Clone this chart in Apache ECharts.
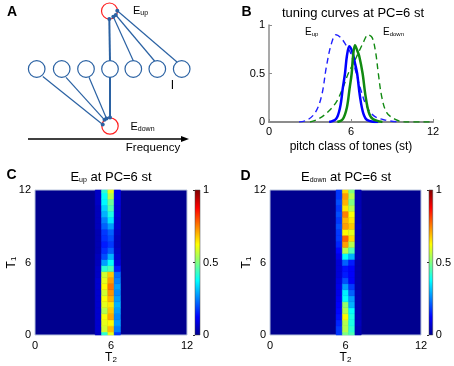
<!DOCTYPE html>
<html>
<head>
<meta charset="utf-8">
<script src="https://cdn.jsdelivr.net/npm/echarts@6/dist/echarts.min.js"></script>
<style>
  html, body { margin: 0; padding: 0; background: #fff; }
  #chart { width: 454px; height: 366px; }
</style>
</head>
<body>
<div id="chart"></div>
<script>
// panel B: tuning curves, [pitch class (st), response]
const upBroad = [[2.2, 0], [2.8, 0.02], [3.4, 0.1], [3.85, 0.27], [4.2, 0.57], [4.55, 0.8], [4.9, 0.9], [5.25, 0.87], [5.6, 0.8], [6.0, 0.7], [6.35, 0.52], [6.7, 0.34], [7.15, 0.16], [7.7, 0.06], [8.5, 0.02], [9.5, 0]]
const downBroad = [[3.0, 0], [3.6, 0.03], [4.2, 0.09], [4.9, 0.2], [5.4, 0.35], [5.8, 0.5], [6.4, 0.67], [6.9, 0.82], [7.25, 0.9], [7.55, 0.87], [7.8, 0.72], [8.0, 0.5], [8.25, 0.26], [8.6, 0.1], [9.2, 0.03], [10, 0], [12, 0]]
const upNarrow = [[4.4, 0], [4.9, 0.03], [5.2, 0.15], [5.4, 0.35], [5.56, 0.5], [5.7, 0.68], [5.88, 0.78], [6.1, 0.72], [6.3, 0.6], [6.45, 0.5], [6.65, 0.27], [6.9, 0.09], [7.2, 0.02], [8, 0]]
const downNarrow = [[5.0, 0], [5.4, 0.03], [5.7, 0.15], [5.9, 0.35], [6.05, 0.5], [6.15, 0.68], [6.29, 0.79], [6.45, 0.74], [6.6, 0.68], [6.85, 0.5], [7.05, 0.28], [7.3, 0.1], [7.6, 0.03], [8.3, 0]]

// panels C/D: rows of T1 (st), one array per T2 column, bottom row first
const t1Rows = [0, 0.5, 1, 1.5, 2, 2.5, 3, 3.5, 4, 4.5, 5, 5.5, 6, 6.5, 7, 7.5, 8, 8.5, 9, 9.5, 10, 10.5, 11, 11.5, 12]
const upPc50 = [0.06, 0.07, 0.07, 0.07, 0.07, 0.07, 0.07, 0.07, 0.07, 0.07, 0.06, 0.06, 0.05, 0.05, 0.04, 0.04, 0.04, 0.04, 0.05, 0.05, 0.05, 0.05, 0.06, 0.06, 0.06]
const upPc55 = [0.42, 0.58, 0.60, 0.62, 0.55, 0.60, 0.62, 0.58, 0.63, 0.60, 0.58, 0.42, 0.28, 0.20, 0.17, 0.15, 0.17, 0.18, 0.22, 0.25, 0.30, 0.33, 0.37, 0.38, 0.42]
const upPc60 = [0.60, 0.69, 0.63, 0.71, 0.68, 0.65, 0.70, 0.73, 0.76, 0.72, 0.68, 0.45, 0.38, 0.30, 0.22, 0.18, 0.20, 0.22, 0.28, 0.35, 0.40, 0.45, 0.48, 0.55, 0.60]
const upPc65 = [0.18, 0.25, 0.28, 0.26, 0.28, 0.30, 0.28, 0.26, 0.28, 0.25, 0.23, 0.15, 0.09, 0.07, 0.06, 0.05, 0.05, 0.06, 0.07, 0.07, 0.08, 0.08, 0.09, 0.10, 0.10]
const downPc55 = [0.18, 0.18, 0.16, 0.14, 0.13, 0.12, 0.11, 0.10, 0.10, 0.09, 0.08, 0.08, 0.08, 0.10, 0.13, 0.16, 0.18, 0.18, 0.20, 0.18, 0.20, 0.18, 0.20, 0.18, 0.18]
const downPc60 = [0.50, 0.55, 0.55, 0.63, 0.55, 0.52, 0.38, 0.36, 0.28, 0.20, 0.15, 0.14, 0.22, 0.38, 0.55, 0.72, 0.78, 0.63, 0.72, 0.70, 0.75, 0.65, 0.70, 0.72, 0.66]
const downPc65 = [0.45, 0.42, 0.40, 0.40, 0.38, 0.30, 0.28, 0.22, 0.18, 0.12, 0.12, 0.12, 0.15, 0.30, 0.45, 0.55, 0.66, 0.60, 0.68, 0.65, 0.62, 0.55, 0.50, 0.55, 0.50]
const downPc70 = [0.04, 0.04, 0.05, 0.04, 0.04, 0.04, 0.04, 0.04, 0.03, 0.03, 0.03, 0.03, 0.03, 0.04, 0.04, 0.04, 0.04, 0.04, 0.05, 0.04, 0.04, 0.04, 0.04, 0.04, 0.04]

const font = 'Liberation Sans'
const jet = ['#00008f', '#0000ff', '#0080ff', '#00ffff', '#80ff80', '#ffff00', '#ff8000', '#ff0000', '#800000']
const jetGradient = {
  type: 'linear', x: 0, y: 1, x2: 0, y2: 0,
  colorStops: jet.map((c, i) => ({ offset: i / (jet.length - 1), color: c }))
}

function cells(pc, values) {
  return values.map((v, i) => [pc, t1Rows[i], v])
}

function renderCell(params, api) {
  const pc = api.value(0)
  const t1 = api.value(1)
  const a = api.coord([pc - 0.25, t1 + 0.25])
  const b = api.coord([pc + 0.25, t1 - 0.25])
  const cs = params.coordSys
  const rect = echarts.graphic.clipRectByRect(
    { x: a[0], y: a[1], width: b[0] - a[0], height: b[1] - a[1] },
    { x: cs.x, y: cs.y, width: cs.width, height: cs.height }
  )
  if (!rect) return
  const c = api.visual('color')
  return { type: 'rect', shape: rect, style: { fill: c, stroke: c, lineWidth: 0.5 } }
}

const sub = {
  e: { fontSize: 13, fontFamily: font, color: '#000', verticalAlign: 'bottom' },
  s: { fontSize: 7, fontFamily: font, color: '#000', verticalAlign: 'bottom' }
}
const tickLabel = { color: '#000', fontSize: 11, fontFamily: font }
const nameRich = {
  t: { fontSize: 12, fontFamily: font, color: '#000', verticalAlign: 'bottom' },
  s: { fontSize: 8, fontFamily: font, color: '#000', verticalAlign: 'bottom' }
}

function heatX(gridIndex) {
  return {
    gridIndex, type: 'value', min: 0, max: 12, interval: 6,
    axisLine: { show: false }, axisTick: { show: false }, splitLine: { show: false },
    axisLabel: Object.assign({ margin: 5 }, tickLabel),
    name: '{t|T}{s|2}', nameLocation: 'middle', nameGap: 17, nameMoveOverlap: false,
    nameTextStyle: { rich: nameRich }
  }
}
function heatY(gridIndex) {
  return {
    gridIndex, type: 'value', min: 0, max: 12, interval: 6,
    axisLine: { show: false }, axisTick: { show: false }, splitLine: { show: false },
    axisLabel: Object.assign({ margin: 4 }, tickLabel),
    name: '{t|T}{s|1}', nameLocation: 'middle', nameGap: 17, nameRotate: 90, nameMoveOverlap: false,
    nameTextStyle: { rich: nameRich }
  }
}
function barY(gridIndex) {
  return {
    gridIndex, type: 'value', min: 0, max: 1, interval: 0.5, position: 'right',
    axisLine: { show: false }, splitLine: { show: false },
    axisTick: { show: true, inside: true, length: 2, lineStyle: { color: '#333', width: 1 } },
    axisLabel: Object.assign({ margin: 3 }, tickLabel)
  }
}

// panel A diagram
const blue = '#2b62a3'
const red = '#ff2020'
const diagram = []
const rowX = [36.7, 61.7, 86, 110, 133.3, 157.3, 181.7]
const downEnds = [[102.7, 124.5], [104.5, 119.8], [106.5, 118.6], [110, 117.6]]
const upEnds = [[109.3, 19], [113.3, 16.7], [115.8, 15], [117.3, 10.8]]
diagram.push({ type: 'line', shape: { x1: 110, y1: 77, x2: 110, y2: 117.6 }, style: { stroke: blue, lineWidth: 2 } })
diagram.push({ type: 'line', shape: { x1: 110, y1: 61, x2: 109.3, y2: 19 }, style: { stroke: blue, lineWidth: 2 } })
const downStarts = [[42.8, 76.5], [66, 77.3], [89, 77.3]]
downStarts.forEach((p, i) => diagram.push({ type: 'line', shape: { x1: p[0], y1: p[1], x2: downEnds[i][0], y2: downEnds[i][1] }, style: { stroke: blue, lineWidth: 1.2 } }))
const upStarts = [[133.3, 60.7], [155, 61.5], [177, 62]]
upStarts.forEach((p, i) => diagram.push({ type: 'line', shape: { x1: p[0], y1: p[1], x2: upEnds[i + 1][0], y2: upEnds[i + 1][1] }, style: { stroke: blue, lineWidth: 1.2 } }))
rowX.forEach(x => diagram.push({ type: 'circle', shape: { cx: x, cy: 69, r: 8.3 }, style: { fill: '#fff', stroke: blue, lineWidth: 1.2 } }))
diagram.push({ type: 'circle', shape: { cx: 109.5, cy: 11, r: 8 }, style: { fill: 'none', stroke: red, lineWidth: 1.2 } })
diagram.push({ type: 'circle', shape: { cx: 110, cy: 126, r: 8.2 }, style: { fill: 'none', stroke: red, lineWidth: 1.2 } })
downEnds.concat(upEnds).forEach(p => diagram.push({ type: 'circle', shape: { cx: p[0], cy: p[1], r: 2 }, style: { fill: blue } }))
diagram.push({ type: 'line', shape: { x1: 28, y1: 139, x2: 183, y2: 139 }, style: { stroke: '#000', lineWidth: 1.5 } })
diagram.push({ type: 'polygon', shape: { points: [[181, 136], [189, 139], [181, 142]] }, style: { fill: '#000' } })

function label(x, y, text, opts) {
  return {
    type: 'text', x, y,
    style: Object.assign({
      text, fill: '#000', font: '12px "Liberation Sans"',
      textAlign: 'center', textVerticalAlign: 'middle', align: 'center', verticalAlign: 'middle'
    }, opts || {})
  }
}
const subRich = (size, color) => ({
  e: { fontSize: size, fontFamily: font, color, verticalAlign: 'bottom' },
  s: { fontSize: Math.round(size * 0.6), fontFamily: font, color, verticalAlign: 'bottom' }
})
const letterFont = 'bold 14px "Liberation Sans"'

const texts = [
  label(12, 12, 'A', { font: letterFont }),
  label(246.5, 12, 'B', { font: letterFont }),
  label(11.5, 175.5, 'C', { font: letterFont }),
  label(245.5, 176, 'D', { font: letterFont }),
  label(133, 11, '{e|E}{s|up}', { textAlign: 'left', align: 'left', rich: subRich(11, '#000') }),
  label(130.5, 127, '{e|E}{s|down}', { textAlign: 'left', align: 'left', rich: subRich(11, '#000') }),
  label(172.5, 86, 'I', { font: '12px "Liberation Sans"' }),
  label(153, 148, 'Frequency', { font: '11.5px "Liberation Sans"' }),
  label(353, 13, 'tuning curves at PC=6 st', { font: '13px "Liberation Sans"' }),
  label(305, 32, '{e|E}{s|up}', { textAlign: 'left', align: 'left', rich: subRich(10, '#0000ff') }),
  label(383, 32, '{e|E}{s|down}', { textAlign: 'left', align: 'left', rich: subRich(10, '#118a11') }),
  label(111, 177, '{e|E}{s|up}{e| at PC=6 st}', { rich: sub }),
  label(346, 177, '{e|E}{s|down}{e| at PC=6 st}', { rich: sub })
]

const chart = echarts.init(document.getElementById('chart'))
chart.setOption({
  animation: false,
  backgroundColor: '#fff',
  grid: [
    { left: 269, top: 25, width: 164, height: 97 },
    { left: 35, top: 190, width: 152, height: 145, show: true, backgroundColor: jet[0], borderColor: '#b8c4dc', borderWidth: 1 },
    { left: 195, top: 190, width: 5, height: 145, show: true, backgroundColor: jetGradient, borderColor: '#444', borderWidth: 0.5 },
    { left: 270, top: 190, width: 151, height: 145, show: true, backgroundColor: jet[0], borderColor: '#b8c4dc', borderWidth: 1 },
    { left: 429, top: 190, width: 5, height: 145, show: true, backgroundColor: jetGradient, borderColor: '#444', borderWidth: 0.5 }
  ],
  xAxis: [
    {
      gridIndex: 0, type: 'value', min: 0, max: 12, interval: 6,
      axisLine: { show: true, lineStyle: { color: '#8c8c8c', width: 2 } },
      axisTick: { show: true, inside: true, length: 3, lineStyle: { color: '#8c8c8c' } },
      splitLine: { show: false },
      axisLabel: Object.assign({ margin: 4 }, tickLabel),
      name: 'pitch class of tones (st)', nameLocation: 'middle', nameGap: 19, nameMoveOverlap: false,
      nameTextStyle: { color: '#000', fontSize: 12, fontFamily: font }
    },
    heatX(1),
    { gridIndex: 2, type: 'value', show: false },
    heatX(3),
    { gridIndex: 4, type: 'value', show: false }
  ],
  yAxis: [
    {
      gridIndex: 0, type: 'value', min: 0, max: 1, interval: 0.5,
      axisLine: { show: true, lineStyle: { color: '#8c8c8c', width: 1.5 } },
      axisTick: { show: true, inside: true, length: 3, lineStyle: { color: '#8c8c8c' } },
      splitLine: { show: false },
      axisLabel: Object.assign({ margin: 4 }, tickLabel)
    },
    heatY(1),
    barY(2),
    heatY(3),
    barY(4)
  ],
  visualMap: [
    { show: false, type: 'continuous', seriesIndex: 4, dimension: 2, min: 0, max: 1, inRange: { color: jet } },
    { show: false, type: 'continuous', seriesIndex: 5, dimension: 2, min: 0, max: 1, inRange: { color: jet } }
  ],
  series: [
    { type: 'line', xAxisIndex: 0, yAxisIndex: 0, data: upBroad, showSymbol: false, smooth: 0.35, lineStyle: { color: '#1f1fff', width: 1.4, type: [6, 4] } },
    { type: 'line', xAxisIndex: 0, yAxisIndex: 0, data: downBroad, showSymbol: false, smooth: 0.35, lineStyle: { color: '#118a11', width: 1.4, type: [6, 4] } },
    { type: 'line', xAxisIndex: 0, yAxisIndex: 0, data: upNarrow, showSymbol: false, smooth: 0.35, lineStyle: { color: '#0000ff', width: 2.5 } },
    { type: 'line', xAxisIndex: 0, yAxisIndex: 0, data: downNarrow, showSymbol: false, smooth: 0.35, lineStyle: { color: '#118a11', width: 2.5 } },
    {
      type: 'custom', xAxisIndex: 1, yAxisIndex: 1, renderItem: renderCell, encode: { x: 0, y: 1 },
      data: [].concat(cells(5.0, upPc50), cells(5.5, upPc55), cells(6.0, upPc60), cells(6.5, upPc65))
    },
    {
      type: 'custom', xAxisIndex: 3, yAxisIndex: 3, renderItem: renderCell, encode: { x: 0, y: 1 },
      data: [].concat(cells(5.5, downPc55), cells(6.0, downPc60), cells(6.5, downPc65), cells(7.0, downPc70))
    }
  ],
  graphic: diagram.concat(texts)
})
</script>
</body>
</html>
